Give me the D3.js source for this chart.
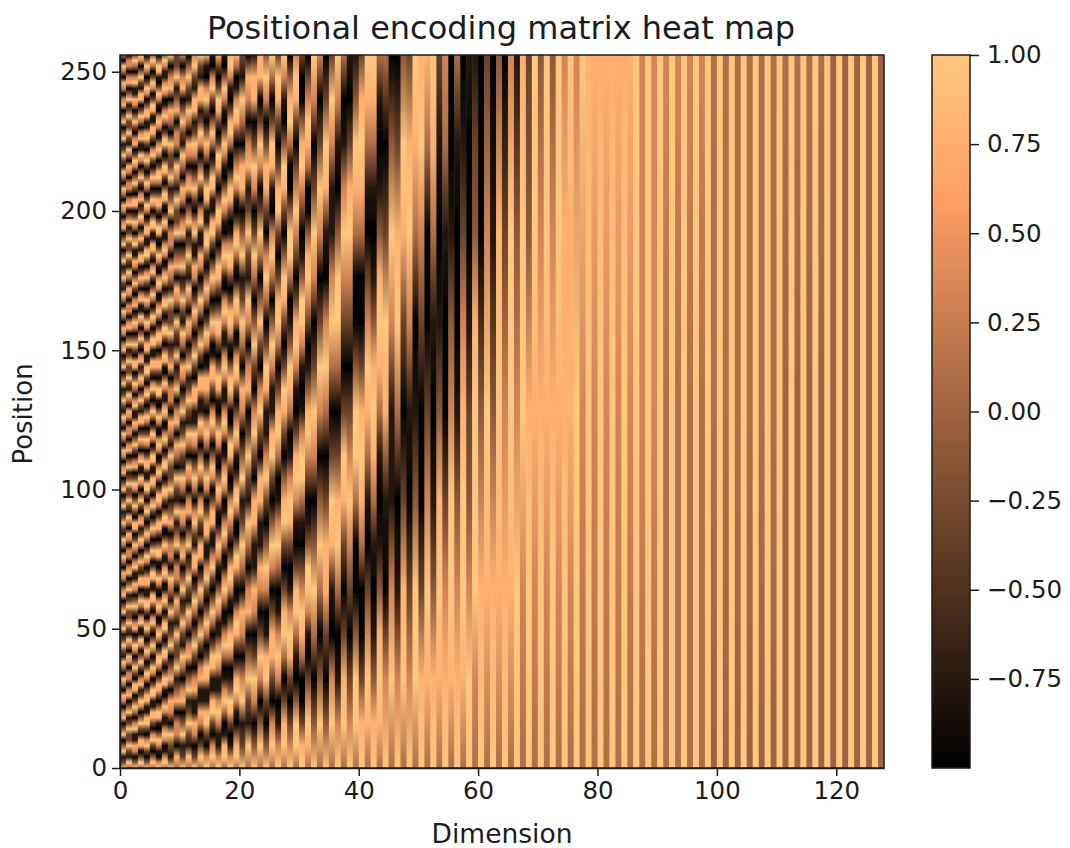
<!DOCTYPE html>
<html>
<head>
<meta charset="utf-8">
<script src="https://cdn.jsdelivr.net/npm/d3@7"></script>
<style>
  body { margin: 0; background: #fff; }
  text { font-family: "DejaVu Sans", sans-serif; fill: #1c1c1c; }
</style>
</head>
<body>
<div id="chart"></div>
<script>
// Estimated values per dimension, read bottom to top and evenly spaced over positions 0-256.
// Each character is a level from the lookup below. Slow columns need fewer samples.
const levels = { 0: -1, 1: -0.78, 2: -0.56, 3: -0.33, 4: -0.11, 5: 0.11, 6: 0.33, 7: 0.56, 8: 0.78, 9: 1, z: 0 };

const dimensionSamples = [
  "931940940860680590591393194094086068059059139319409408606805905913931940940860680590591393194094086068059059139319409408606805905",
  "591393393194086066068059139339319408606606805913933931940860660680591393393194086066068059139339319408606606805913933931940860660",
  "940681196059308803940693086039406811960593088039406930860394068119605930880394069308603940681196059308803940693086039406811960593",
  "593088139406931860394069119605930881394069318603940691196059308813940693186039406911960593088139406931860394069119605930881394069",
  "940396039811883069305940396039811883069305940396039811883069305940396039811883069305940396039811883069305940396039811883069305940",
  "594039603881189306930594039603881189306930594039603881189306930594039603881189306930594039603881189306930594039603881189306930594",
  "960169401894038830598305961069601694018940388305983059610696016940189403883059830596106960169401894038830598305961069601694018940",
  "596106961169401894038930398305961069611694018940389303983059610696116940189403893039830596106961169401894038930398305961069611694",
  "91390680840931915906608419339158066084193391580660941933905808609",
  "58066084193391580660941913905808609319139068084093391590660841933",
  "93194086059139319408606805913931940680591393194086068059139408606",
  "59139319408605913931940860680591393194068059139319408606805913940",
  "93068118603940593088139605940691188039405930681196039406931881396",
  "59306811860394059308813960594069118803940593068119603940693188139",
  "96039811893059403961188306940596038810693059403981189305940396018",
  "59603981189305940396118830694059603881069305940398118930594039601",
  "96116961169611694016940169401694018940389403894038940389303893038",
  "59810596105961059610596106961069611696116960169601694016940169401",
  "96103894105984016983036961038940059840169830389610389400598301698",
  "59840169830389610389400598301696303896105894015983016963038961058",
  "931960680593194068059319408805913",
  "591394086059139308606913931860680",
  "940693068118803960394059306930881",
  "594069306811880396039405930693088",
  "940398106940396118930596038830694",
  "596038830694039811694059601893059",
  "961069610596105983059830398303893",
  "598305983039840389303894038940169",
  "963038961038961058941059940059840",
  "599401598301698301698303696303896",
  "983005896301599610169941036984003",
  "589630169941036984103698400589630",
  "94059406930693069",
  "59405940693069306",
  "94038830596018930",
  "59601893059611693",
  "96105983059940169",
  "59830389303696105",
  "96303696303698301",
  "59940059940058941",
  "98300589830058983",
  "58963015896301589",
  "98410158984101589",
  "58984101589841015",
  "960189305",
  "596116940",
  "961059830",
  "598303894",
  "963016983",
  "599410589",
  "983003698",
  "589630058",
  "984101589",
  "589841013",
  "986300156",
  "589964100",
  "986410015",
  "589986310",
  "996431001",
  "569998431",
  "98400",
  "58963",
  "98410",
  "58984",
  "98630",
  "58996",
  "99641",
  "56998",
  "99843",
  "56899",
  "99864",
  "56899",
  "99864",
  "56899",
  "99886",
  "56889",
  "996", "569",
  "998", "568",
  "998", "568",
  "998", "568",
  "998", "568",
  "999", "566",
  "999", "566",
  "999", "556",
  "999", "556",
  "999", "556",
  "999", "556",
  "999", "z55",
  "999", "z55",
  "999", "z55",
  "999", "z55",
  "999", "z55",
  "999", "z55",
  "999", "zz5",
  "999", "zz5",
  "999", "zz5",
  "999", "zz5",
  "999", "zzz",
  "999", "zzz",
  "999", "zzz",
  "999", "zzz",
  "999", "zzz"
];

const dimensionTicks = [0, 20, 40, 60, 80, 100, 120];
const positionTicks = [0, 50, 100, 150, 200, 250];
const colorTicks = [-0.75, -0.5, -0.25, 0, 0.25, 0.5, 0.75, 1];
const colorTickLabels = ["\u22120.75", "\u22120.50", "\u22120.25", "0.00", "0.25", "0.50", "0.75", "1.00"];

const svg = d3.select("#chart").append("svg")
  .attr("width", 1070)
  .attr("height", 848);

const x = d3.scaleLinear().domain([0, 128]).range([120, 884]);
const y = d3.scaleLinear().domain([0, 256]).range([768, 55]);
const colorY = d3.scaleLinear().domain([-1, 1]).range([768, 55]);

// copper colormap, red channel clips at 0.6
const copper = d3.scaleLinear()
  .domain([-1, 0.6, 1])
  .range(["#000000", "#ff9f65", "#ffc77f"]);

const defs = svg.append("defs");

const blur = defs.append("filter").attr("id", "soft");
blur.append("feGaussianBlur").attr("stdDeviation", 0.6);

defs.append("clipPath").attr("id", "plotClip")
  .append("rect")
  .attr("x", x(0))
  .attr("y", y(256))
  .attr("width", x(128) - x(0))
  .attr("height", y(0) - y(256));

// One vertical gradient per dimension, its stops are the typed samples
dimensionSamples.forEach((samples, dim) => {
  const gradient = defs.append("linearGradient")
    .attr("id", "dim" + dim)
    .attr("gradientUnits", "userSpaceOnUse")
    .attr("x1", 0).attr("x2", 0)
    .attr("y1", y(0)).attr("y2", y(256));
  gradient.selectAll("stop")
    .data(samples.split(""))
    .join("stop")
    .attr("offset", (d, i) => i / (samples.length - 1))
    .attr("stop-color", d => copper(levels[d]));
});

svg.append("g")
  .attr("clip-path", "url(#plotClip)")
  .append("g")
  .attr("filter", "url(#soft)")
  .selectAll("rect")
  .data(dimensionSamples)
  .join("rect")
  .attr("x", (d, i) => x(i))
  .attr("y", y(256))
  .attr("width", (d, i) => x(i + 1) - x(i) + 0.5)
  .attr("height", y(0) - y(256))
  .attr("fill", (d, i) => `url(#dim${i})`);

// Axes
function styleAxis(g) {
  g.selectAll("path, line").attr("stroke", "#1c1c1c").attr("stroke-width", 1.5);
  g.selectAll("text").attr("font-size", 24.5).attr("fill", "#1c1c1c");
}

svg.append("g")
  .attr("transform", `translate(0,${y(0)})`)
  .call(d3.axisBottom(x).tickValues(dimensionTicks).tickSize(8).tickSizeOuter(0).tickPadding(6))
  .call(styleAxis);

svg.append("g")
  .attr("transform", `translate(${x(0)},0)`)
  .call(d3.axisLeft(y).tickValues(positionTicks).tickSize(8).tickSizeOuter(0).tickPadding(5))
  .call(styleAxis);

svg.append("rect")
  .attr("x", x(0))
  .attr("y", y(256))
  .attr("width", x(128) - x(0))
  .attr("height", y(0) - y(256))
  .attr("fill", "none")
  .attr("stroke", "#1c1c1c")
  .attr("stroke-width", 1.5);

// Colorbar
const barLeft = 932;
const barRight = 970;

const barGradient = defs.append("linearGradient")
  .attr("id", "barGradient")
  .attr("x1", 0).attr("x2", 0)
  .attr("y1", 1).attr("y2", 0);
barGradient.selectAll("stop")
  .data(copper.domain())
  .join("stop")
  .attr("offset", d => (d + 1) / 2)
  .attr("stop-color", d => copper(d));

svg.append("rect")
  .attr("x", barLeft)
  .attr("y", colorY(1))
  .attr("width", barRight - barLeft)
  .attr("height", colorY(-1) - colorY(1))
  .attr("fill", "url(#barGradient)")
  .attr("stroke", "#1c1c1c")
  .attr("stroke-width", 1.5);

svg.append("g")
  .attr("transform", `translate(${barRight},0)`)
  .call(d3.axisRight(colorY)
    .tickValues(colorTicks)
    .tickFormat((d, i) => colorTickLabels[i])
    .tickSize(9).tickSizeOuter(0).tickPadding(8))
  .call(styleAxis)
  .call(g => g.select(".domain").remove());

// Titles
svg.append("text")
  .attr("x", 501)
  .attr("y", 39)
  .attr("text-anchor", "middle")
  .attr("font-size", 32)
  .text("Positional encoding matrix heat map");

svg.append("text")
  .attr("x", 502)
  .attr("y", 843)
  .attr("text-anchor", "middle")
  .attr("font-size", 26.5)
  .text("Dimension");

svg.append("text")
  .attr("transform", "translate(32,414) rotate(-90)")
  .attr("text-anchor", "middle")
  .attr("font-size", 26)
  .text("Position");
</script>
</body>
</html>
